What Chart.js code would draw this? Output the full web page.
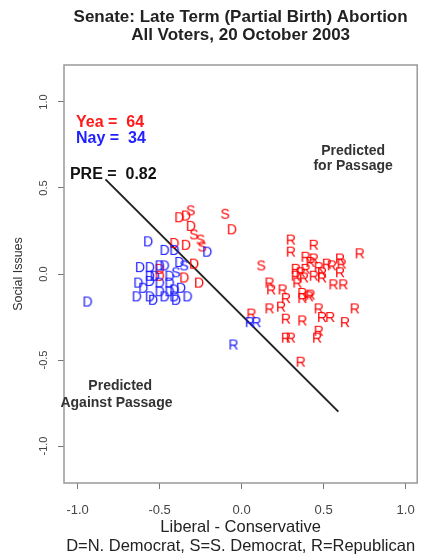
<!DOCTYPE html>
<html>
<head>
<meta charset="utf-8">
<script src="https://cdn.jsdelivr.net/npm/chart.js@4.4.1/dist/chart.umd.min.js"></script>
<style>
    html, body { margin: 0; padding: 0; background: #fff; }
    #chart1 { display: block; }
</style>
</head>
<body>
<canvas id="chart1" width="429" height="557"></canvas>
<script>
// senators who voted yea (red): party letter for each point
var yeaX = [-0.38, -0.34, -0.31, -0.31, -0.29, -0.25, -0.24, -0.41, -0.34, -0.10, -0.06, -0.29, -0.35, -0.26, -0.50, -0.50, 0.12,
    0.30, 0.44, 0.30, 0.72, 0.39, 0.44, 0.52, 0.60, 0.61, 0.33, 0.39, 0.47, 0.55, 0.49, 0.60, 0.33, 0.38, 0.44, 0.49, 0.17,
    0.34, 0.56, 0.62, 0.18, 0.25, 0.37, 0.42, 0.27, 0.37, 0.41, 0.17, 0.24, 0.47, 0.49, 0.54, 0.63, 0.69, 0.27, 0.37, 0.27,
    0.30, 0.47, 0.46, 0.36, 0.06, 0.42, 0.36];
var yeaY = [0.33, 0.34, 0.37, 0.28, 0.23, 0.20, 0.16, 0.18, 0.17, 0.35, 0.26, 0.06, -0.02, -0.05, -0.01, 0.03, 0.05,
    0.20, 0.17, 0.13, 0.12, 0.10, 0.09, 0.06, 0.09, 0.06, 0.03, 0.03, 0.04, 0.05, 0.01, 0.01, -0.01, -0.02, -0.01, -0.02, -0.05,
    -0.05, -0.06, -0.06, -0.09, -0.09, -0.11, -0.12, -0.14, -0.14, -0.13, -0.20, -0.19, -0.20, -0.25, -0.25, -0.28, -0.20, -0.26, -0.27, -0.37,
    -0.37, -0.33, -0.37, -0.51, -0.23, 0.07, 0.01];
var yeaParty = ("DDSDSSSDDSDDDDDDS" + "RRRRRRRRRRRRRRRRRRRRRRRRRRRRRRRRRRRRRRRRRRRRRRR").split("");

// senators who voted nay (blue)
var nayX = [-0.94, -0.57, -0.47, -0.41, -0.21, -0.38, -0.35, -0.62, -0.56, -0.50, -0.47, -0.40, -0.56, -0.53, -0.63, -0.56, -0.50,
    -0.44, -0.37, -0.50, -0.44, -0.41, -0.64, -0.56, -0.54, -0.41, -0.40, -0.33, -0.47, -0.60, 0.05, 0.09, -0.05, -0.44];
var nayY = [-0.16, 0.19, 0.14, 0.14, 0.13, 0.07, 0.05, 0.04, 0.04, 0.05, 0.05, 0.01, -0.01, -0.01, -0.05, -0.04, -0.05,
    -0.05, -0.08, -0.10, -0.10, -0.09, -0.13, -0.13, -0.15, -0.13, -0.15, -0.13, -0.13, -0.08, -0.28, -0.28, -0.41, -0.01];
var nayParty = ("DDDDDDSDDDDSDDDDDDDDDDDDDDDDDDRRRD").split("");

// cutting line
var cutX = [-0.83, 0.59];
var cutY = [0.55, -0.80];

var xTicks = [-1.0, -0.5, 0.0, 0.5, 1.0];
var yTicks = [-1.0, -0.5, 0.0, 0.5, 1.0];

var yeaCount = 64;
var nayCount = 34;
var pre = 0.82;

var fontFamily = '"Liberation Sans", Arial, Helvetica, sans-serif';

function letterIcon(letter, colour) {
    var c = document.createElement("canvas");
    c.width = 16;
    c.height = 16;
    var g = c.getContext("2d");
    g.font = "14px " + fontFamily;
    g.fillStyle = colour;
    g.textAlign = "center";
    g.textBaseline = "alphabetic";
    g.fillText(letter, 8, 13);
    return c;
}

var icons = { red: {}, blue: {} };
["D", "S", "R"].forEach(function (p) {
    icons.red[p] = letterIcon(p, "#ff0000");
    icons.blue[p] = letterIcon(p, "#1a1aff");
});

function toPoints(xs, ys) {
    return xs.map(function (x, i) {
        return { x: x, y: ys[i] };
    });
}

// frame round the plot region
var frame = {
    id: "frame",
    afterDatasetsDraw: function (chart) {
        var a = chart.chartArea, ctx = chart.ctx;
        ctx.save();
        ctx.strokeStyle = "#999";
        ctx.lineWidth = 1.5;
        ctx.strokeRect(a.left, a.top, a.right - a.left, a.bottom - a.top);
        ctx.restore();
    }
};

// vote counts and region labels
var notes = {
    id: "notes",
    afterDatasetsDraw: function (chart) {
        var sx = chart.scales.x, sy = chart.scales.y, ctx = chart.ctx;
        ctx.save();
        ctx.textBaseline = "middle";
        ctx.textAlign = "left";
        ctx.font = "bold 16px " + fontFamily;
        ctx.fillStyle = "#ff1a1a";
        ctx.fillText("Yea =  " + yeaCount, sx.getPixelForValue(-1.01), sy.getPixelForValue(0.878));
        ctx.fillStyle = "#1f1fff";
        ctx.fillText("Nay =  " + nayCount, sx.getPixelForValue(-1.01), sy.getPixelForValue(0.785));
        ctx.fillStyle = "#111";
        ctx.fillText("PRE =  " + pre.toFixed(2), sx.getPixelForValue(-1.047), sy.getPixelForValue(0.576));

        ctx.textAlign = "center";
        ctx.font = "bold 14px " + fontFamily;
        ctx.fillStyle = "#333";
        ctx.fillText("Predicted", sx.getPixelForValue(0.68), sy.getPixelForValue(0.715));
        ctx.fillText("for Passage", sx.getPixelForValue(0.68), sy.getPixelForValue(0.628));
        ctx.fillText("Predicted", sx.getPixelForValue(-0.74), sy.getPixelForValue(-0.651));
        ctx.fillText("Against Passage", sx.getPixelForValue(-0.763), sy.getPixelForValue(-0.75));
        ctx.restore();
    }
};

var chart = new Chart(document.getElementById("chart1"), {
    type: "scatter",
    data: {
        datasets: [
            {
                label: "Nay",
                data: toPoints(nayX, nayY),
                pointStyle: function (c) { return icons.blue[nayParty[c.dataIndex]]; },
                pointRadius: 8
            },
            {
                label: "Yea",
                data: toPoints(yeaX, yeaY),
                pointStyle: function (c) { return icons.red[yeaParty[c.dataIndex]]; },
                pointRadius: 8
            },
            {
                label: "Cutting line",
                type: "line",
                data: toPoints(cutX, cutY),
                borderColor: "#222",
                borderWidth: 2,
                pointRadius: 0,
                fill: false
            }
        ]
    },
    options: {
        responsive: false,
        animation: false,
        events: [],
        devicePixelRatio: 1,
        layout: { padding: { left: 0, right: 1, top: 0, bottom: 0 } },
        plugins: {
            legend: { display: false },
            tooltip: { enabled: false },
            title: {
                display: true,
                fullSize: false,
                text: ["Senate: Late Term (Partial Birth) Abortion", "All Voters, 20 October 2003"],
                color: "#222",
                font: { family: fontFamily, size: 17, weight: "bold", lineHeight: "18px" },
                padding: { top: 8, bottom: 21 }
            }
        },
        scales: {
            x: {
                type: "linear",
                min: -1.083,
                max: 1.071,
                afterBuildTicks: function (scale) {
                    scale.ticks = xTicks.map(function (v) { return { value: v }; });
                },
                afterFit: function (scale) { scale.height = 74; },
                border: { display: false },
                grid: { drawOnChartArea: false, drawTicks: true, tickLength: 6, color: "#777" },
                ticks: {
                    color: "#444",
                    padding: 14,
                    font: { family: fontFamily, size: 13 },
                    callback: function (v) { return v.toFixed(1); }
                },
                title: {
                    display: true,
                    text: ["Liberal - Conservative", "D=N. Democrat, S=S. Democrat, R=Republican"],
                    color: "#222",
                    font: { family: fontFamily, size: 16.5, lineHeight: "19px" },
                    padding: { top: 0, bottom: 1.5 }
                }
            },
            y: {
                type: "linear",
                min: -1.215,
                max: 1.215,
                afterBuildTicks: function (scale) {
                    scale.ticks = yTicks.map(function (v) { return { value: v }; });
                },
                afterFit: function (scale) { scale.width = 64; },
                border: { display: false },
                grid: { drawOnChartArea: false, drawTicks: true, tickLength: 6, color: "#777" },
                ticks: {
                    color: "#444",
                    padding: 5,
                    minRotation: 90,
                    maxRotation: 90,
                    crossAlign: "center",
                    font: { family: fontFamily, size: 11 },
                    callback: function (v) { return v.toFixed(1); }
                },
                title: {
                    display: true,
                    text: "Social Issues",
                    color: "#333",
                    font: { family: fontFamily, size: 12.5 },
                    padding: { top: 11, bottom: 0 }
                }
            }
        }
    },
    plugins: [frame, notes]
});
</script>
</body>
</html>
